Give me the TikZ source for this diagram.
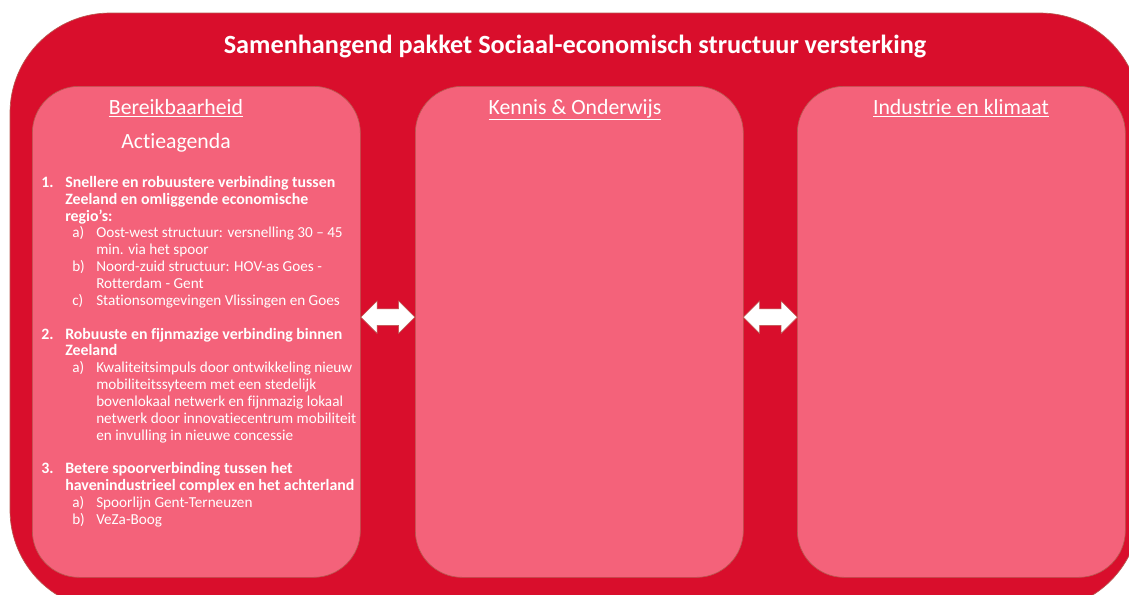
\documentclass[tikz,border=0pt]{standalone}
\usepackage{fontspec}
\setmainfont{Carlito}[Ligatures=NoCommon]
\usetikzlibrary{shapes.arrows,positioning,calc}
\definecolor{frameRed}{HTML}{D90E2C}
\definecolor{pillarPink}{HTML}{F4627A}
\definecolor{pillarRim}{HTML}{B9574F}

\tikzstyle{pillar} = [rectangle, rounded corners=35pt, draw=pillarRim, line width=0.5pt, fill=pillarPink, minimum width=246pt, minimum height=368.25pt, anchor=north west, inner sep=0pt]
\tikzstyle{pillarhead} = [text=white, inner sep=0pt, anchor=base, font=\fontsize{16.3}{19}\selectfont]
\tikzstyle{linkarrow} = [double arrow, fill=white, draw=pillarRim, line width=0.4pt, minimum height=40.5pt, double arrow head extend=6pt, inner sep=0pt]

% regels van de actieagenda
\newcommand{\agbf}[1]{{\fontsize{11.9}{12.64}\selectfont\bfseries #1}}
\newcommand{\agnum}[2]{\makebox[18pt][l]{\agbf{#1}}\agbf{#2}}
\newcommand{\agnext}[1]{\hspace*{18pt}\agbf{#1}}
\newcommand{\agsub}[2]{\hspace*{23.25pt}\makebox[18pt][l]{#1}#2}
\newcommand{\agsubnext}[1]{\hspace*{41.25pt}#1}

\begin{document}
\begin{tikzpicture}[x=0.75pt,y=-0.75pt]
  \useasboundingbox (0,0) rectangle (1129,594);
  \clip (0,0) rectangle (1129,594);
  \draw[fill=frameRed, draw=pillarRim, line width=0.5pt, rounded corners=75pt] (10,13) rectangle (1140,610);

  \node[text=white, anchor=base, inner sep=0pt, font=\fontsize{19.7}{23}\selectfont\bfseries] (title) at (575,53) {Samenhangend pakket Sociaal-economisch structuur versterking};

  \node[pillar] (bereik) at (32,86) {};
  \node[pillar] (kennis) at (415,86) {};
  \node[pillar] (industrie) at (797,86) {};

  \node[pillarhead] (bereikhead) at (176,114) {\underline{Bereikbaarheid}};
  \node[pillarhead] (kennishead) at (575,114) {\underline{Kennis \& Onderwijs}};
  \node[pillarhead] (industriehead) at (961,114) {\underline{Industrie en klimaat}};

  \node[pillarhead] (agendahead) at (176,148) {Actieagenda};

  \node[anchor=north west, inner sep=0pt, align=left, text=white, font=\fontsize{11.4}{12.64}\selectfont] (agenda) at (41,176) {%
    \agnum{1.}{Snellere en robuustere verbinding tussen}\\
    \agnext{Zeeland en omliggende economische}\\
    \agnext{regio’s:}\\
    \agsub{a)}{Oost-west structuur: versnelling 30 – 45}\\
    \agsubnext{min. via het spoor}\\
    \agsub{b)}{Noord-zuid structuur: HOV-as Goes -}\\
    \agsubnext{Rotterdam - Gent}\\
    \agsub{c)}{Stationsomgevingen Vlissingen en Goes}\\[12.64pt]
    \agnum{2.}{Robuuste en fijnmazige verbinding binnen}\\
    \agnext{Zeeland}\\
    \agsub{a)}{Kwaliteitsimpuls door ontwikkeling nieuw}\\
    \agsubnext{mobiliteitssyteem met een stedelijk}\\
    \agsubnext{bovenlokaal netwerk en fijnmazig lokaal}\\
    \agsubnext{netwerk door innovatiecentrum mobiliteit}\\
    \agsubnext{en invulling in nieuwe concessie}\\[12.64pt]
    \agnum{3.}{Betere spoorverbinding tussen het}\\
    \agnext{havenindustrieel complex en het achterland}\\
    \agsub{a)}{Spoorlijn Gent-Terneuzen}\\
    \agsub{b)}{VeZa-Boog}};

  \node[linkarrow, yshift=11pt] (linkA) at ($(bereik.east)!0.5!(kennis.west)$) {\rule{0pt}{12pt}};
  \node[linkarrow, yshift=11pt] (linkB) at ($(kennis.east)!0.5!(industrie.west)$) {\rule{0pt}{12pt}};
\end{tikzpicture}
\end{document}
